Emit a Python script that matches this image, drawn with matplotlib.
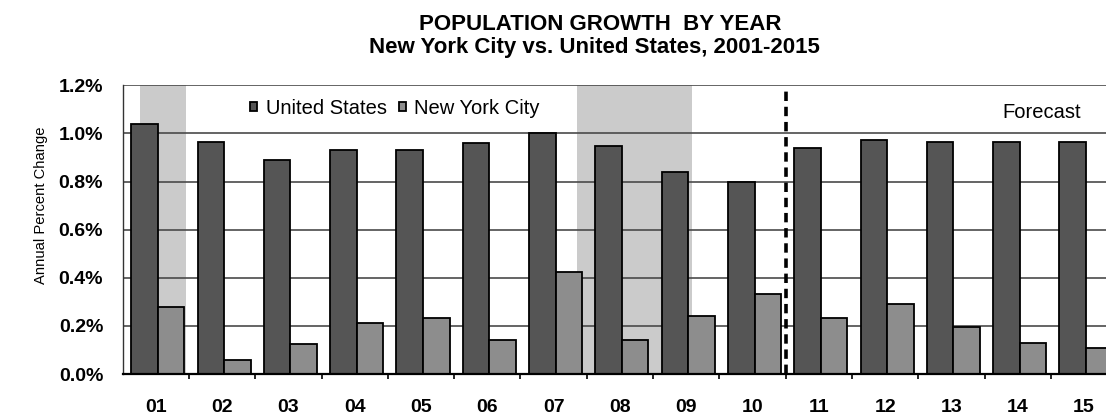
import matplotlib
matplotlib.use('Agg')
import matplotlib.pyplot as plt
import numpy as np
from matplotlib.ticker import FixedLocator

plt.rcParams['font.family'] = ['Liberation Sans', 'DejaVu Sans']

# data
years = ['01', '02', '03', '04', '05', '06', '07', '08', '09', '10',
         '11', '12', '13', '14', '15']
us_growth = [1.04, 0.965, 0.888, 0.93, 0.93, 0.96, 1.0, 0.946, 0.841, 0.797,
             0.939, 0.971, 0.965, 0.965, 0.965]
nyc_growth = [0.28, 0.06, 0.124, 0.21, 0.234, 0.143, 0.422, 0.143, 0.24, 0.333,
              0.233, 0.29, 0.194, 0.13, 0.108]
series_names = ['United States', 'New York City']
# recession bands, in category units
recessions = [(-0.24, 0.45), (6.36, 8.08)]
forecast_start = 9.51
yticks = [0.0, 0.2, 0.4, 0.6, 0.8, 1.0, 1.2]

fig = plt.figure(figsize=(11.06, 4.17), dpi=100)
ax = fig.add_axes([0.1109, 0.1031, 0.8992, 0.6923])

x = np.arange(len(years))
w = 0.40

for a, b in recessions:
    ax.axvspan(a, b, color='#cbcbcb', lw=0, zorder=0.5)

ax.bar(x - 0.17, us_growth, w, color='#555555', edgecolor='black',
       lw=1.3, zorder=2, label=series_names[0])
ax.bar(x + 0.23, nyc_growth, w, color='#8d8d8d', edgecolor='black',
       lw=1.3, zorder=2, label=series_names[1])

ax.axvline(forecast_start, ymin=0, ymax=0.985, color='black', lw=2.6,
           ls=(0, (2.6, 1.6)), zorder=3)
ax.text(13.36, 1.089, 'Forecast', ha='center', va='center', fontsize=14.5)

ax.set_xlim(-0.5, 14.5)
ax.set_ylim(0, 1.2)
ax.set_yticks(yticks)
ax.set_yticklabels(['{:.1f}%'.format(v) for v in yticks],
                   fontsize=14, fontweight='bold')
ax.set_xticks(x)
ax.set_xticklabels(years, fontsize=14, fontweight='bold')
ax.xaxis.set_minor_locator(FixedLocator(np.arange(0.5, 14.5, 1)))
ax.tick_params(axis='y', length=0, pad=14)
ax.tick_params(axis='x', which='major', length=0, pad=18)
ax.tick_params(axis='x', which='minor', length=3.5, width=1.2,
               direction='out', color='black')

ax.grid(axis='y', color='#4a4a4a', lw=1.2, zorder=1)
ax.set_axisbelow(True)
for s in ['top', 'right']:
    ax.spines[s].set_visible(False)
ax.spines['bottom'].set_linewidth(1.6)
ax.spines['bottom'].set_zorder(4)
ax.spines['left'].set_linewidth(1.0)
ax.spines['left'].set_color('#333333')

fig.legend(loc='center left', bbox_to_anchor=(0.226, 0.741), ncol=2,
           frameon=False, fontsize=14.5, handlelength=0.35,
           handleheight=0.35, handletextpad=0.43, columnspacing=0.6,
           borderpad=0, borderaxespad=0)

fig.text(0.037, 1 - 205 / 417, 'Annual Percent Change', rotation=90,
         ha='center', va='center', fontsize=10.6)

fig.text(0.5425, 1 - 25 / 417, 'POPULATION GROWTH  BY YEAR', ha='center',
         va='center', fontsize=16, fontweight='bold')
fig.text(0.5375, 1 - 48 / 417, 'New York City vs. United States, 2001-2015',
         ha='center', va='center', fontsize=16, fontweight='bold')

fig.savefig('out.png', dpi=100)
